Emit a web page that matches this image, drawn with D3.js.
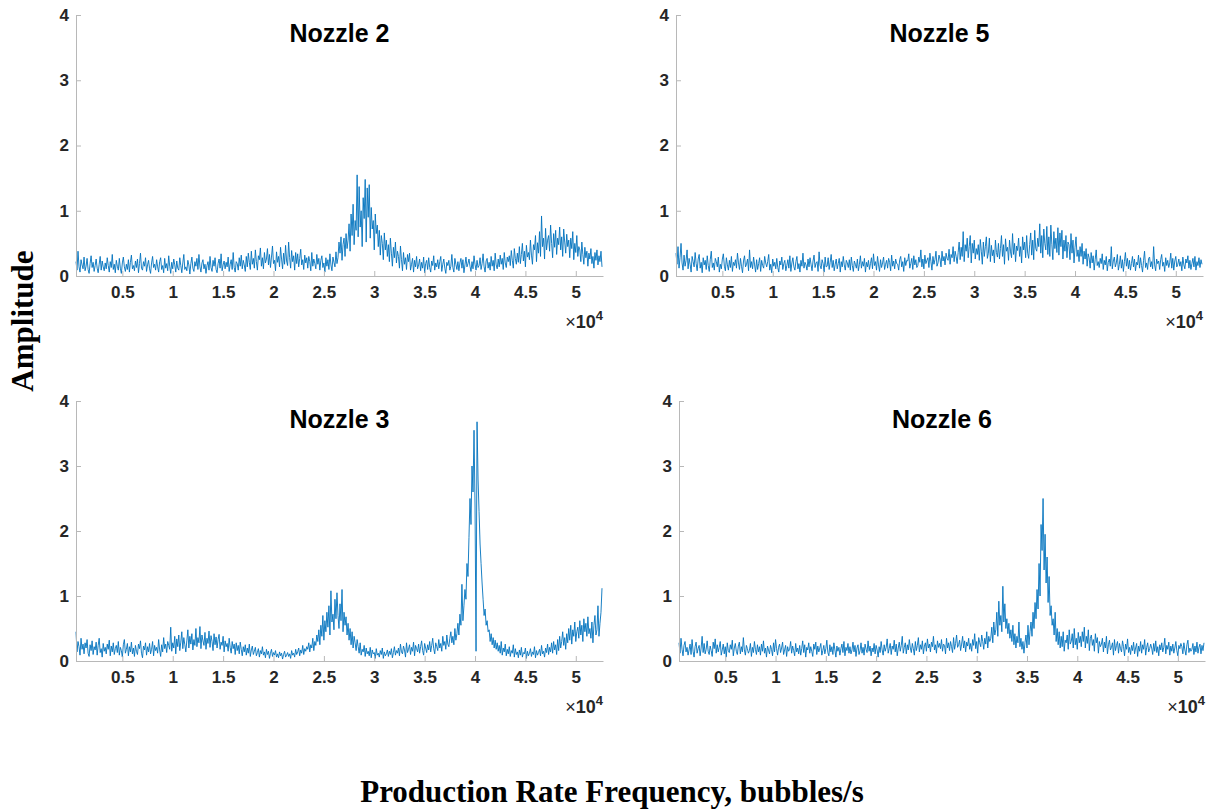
<!DOCTYPE html>
<html>
<head>
<meta charset="utf-8">
<script src="https://cdn.jsdelivr.net/npm/d3@7"></script>
<style>
  html, body { margin: 0; padding: 0; background: #fff; }
  svg { display: block; }
</style>
</head>
<body>
<svg id="chart" width="1213" height="809"></svg>
<script>
// Spectra sampled every 100 bubbles/s starting at 400; amplitudes stored in hundredths.
const freqStart = 400;
const freqStep = 100;

const nozzle2 = [
  22,9,38,14,6,25,17,11,29,8,
  15,27,10,4,19,31,13,21,7,16,
  26,12,5,18,30,9,23,14,8,20,
  11,28,16,6,22,13,33,10,18,5,
  24,15,9,27,12,4,20,29,14,7,
  18,10,25,6,21,32,11,16,8,23,
  13,26,5,19,35,12,9,22,15,28,
  7,17,24,11,4,20,30,13,18,9,
  25,14,6,22,28,10,16,5,27,12,
  19,8,31,15,4,21,11,26,17,6,
  23,12,9,28,16,5,20,33,10,14,
  8,24,17,3,19,29,12,7,22,15,
  27,10,33,14,6,20,25,11,18,4,
  16,22,9,30,13,7,24,15,28,10,
  5,19,26,12,34,8,17,23,11,21,
  14,29,7,18,25,10,36,13,6,22,
  19,9,28,15,32,11,24,17,7,30,
  14,35,21,10,38,18,27,12,40,22,
  9,31,25,43,15,28,11,36,20,26,
  42,17,33,13,29,46,19,24,8,37,
  21,30,14,44,26,11,35,18,47,23,
  16,52,28,12,39,22,31,9,36,19,
  34,14,27,41,17,25,10,32,20,28,
  12,30,22,8,36,15,26,19,11,33,
  18,27,9,24,31,13,20,6,28,15,
  25,10,34,17,8,29,21,14,37,19,
  28,52,35,60,24,48,58,30,65,42,
  55,80,38,95,62,110,48,85,70,155,
  60,137,75,100,45,120,88,148,52,135,
  90,140,58,105,72,85,40,95,65,78,
  45,70,32,62,50,25,66,40,55,30,
  48,22,58,35,15,44,28,52,20,38,
  30,12,46,25,8,36,18,28,10,33,
  22,35,9,18,27,6,24,14,30,11,
  17,26,8,21,12,29,5,19,24,10,
  28,13,6,23,16,31,9,20,14,25,
  11,22,30,7,18,26,12,4,21,16,
  24,9,15,33,13,6,27,18,10,22,
  8,20,27,12,25,5,17,29,14,19,
  26,15,7,22,11,31,18,9,24,13,
  16,28,10,19,34,14,6,23,27,12,
  21,9,30,15,24,8,35,17,11,26,
  14,32,18,27,10,36,20,13,29,22,
  31,16,39,24,12,42,27,18,35,21,
  45,19,33,50,23,38,14,47,29,36,
  25,55,32,18,48,40,62,22,51,35,
  68,30,92,45,58,26,73,40,55,62,
  38,78,50,28,65,44,70,33,58,48,
  75,40,60,30,72,52,35,64,45,55,
  28,58,42,68,25,50,36,62,30,45,
  40,22,52,33,18,44,28,38,15,35,
  26,42,19,30,12,36,24,40,17,31,
  22,38,14
];

const nozzle5 = [
  35,18,45,12,28,50,20,9,32,15,
  24,40,11,27,18,6,30,22,14,36,
  19,8,26,33,12,21,5,28,17,24,
  10,31,16,7,25,38,13,20,9,27,
  22,14,29,6,18,11,26,34,15,8,
  28,17,9,24,13,30,7,21,16,25,
  12,35,20,10,27,15,5,23,31,14,
  18,26,8,40,13,22,11,29,17,6,
  25,10,19,28,7,24,16,12,30,20,
  14,22,33,9,18,5,26,15,21,11,
  27,13,6,23,17,29,10,19,24,8,
  16,25,12,31,7,20,28,14,9,22,
  30,11,19,6,24,15,35,12,21,17,
  9,26,14,28,18,8,23,32,13,20,
  22,7,37,16,11,25,19,6,29,14,
  15,28,10,21,33,13,24,8,18,26,
  11,19,27,6,22,14,30,17,9,24,
  20,13,25,9,29,16,7,23,18,12,
  26,8,18,31,12,22,15,27,6,21,
  14,24,10,19,28,11,34,16,22,9,
  30,17,7,25,13,20,29,10,18,24,
  12,27,21,8,32,15,23,11,26,19,
  18,9,25,30,14,22,7,28,16,24,
  23,34,12,19,27,10,31,17,25,13,
  16,29,21,40,14,26,11,32,19,24,
  28,13,35,22,9,30,18,25,38,15,
  20,32,26,14,38,23,30,17,35,27,
  24,41,18,33,28,45,22,38,30,19,
  36,52,25,44,30,68,22,48,38,58,
  28,45,62,20,50,35,55,26,42,33,
  48,24,56,38,18,52,30,45,60,27,
  35,58,22,47,31,40,20,55,36,29,
  50,26,42,62,30,48,18,57,38,44,
  24,55,37,28,65,33,50,22,46,39,
  58,30,45,20,60,40,52,28,62,35,
  27,48,66,32,55,25,70,42,38,58,
  45,80,35,62,28,72,50,40,76,33,
  60,30,78,48,25,68,42,58,36,74,
  32,66,45,70,26,55,38,62,28,52,
  48,25,65,35,55,20,44,60,30,40,
  22,45,30,50,18,38,26,42,15,34,
  28,12,36,20,31,9,25,40,16,22,
  13,27,19,34,10,24,17,30,8,21,
  26,15,45,11,23,29,14,20,33,9,
  18,31,12,25,7,22,36,15,27,11,
  24,9,19,30,14,26,8,21,17,32,
  12,28,16,6,24,38,13,20,10,27,
  29,14,22,11,45,17,8,26,19,23,
  10,25,33,15,21,7,28,16,24,13,
  20,35,12,27,9,23,30,14,18,26,
  15,22,8,29,17,11,26,20,31,12,
  24,10,19,27,14,30,9,22,16,28,
  13,25,18
];

const nozzle3 = [
  45,14,30,22,9,35,18,26,11,28,
  20,33,12,7,25,16,31,10,22,17,
  29,9,24,35,13,19,6,27,15,21,
  11,26,18,32,8,23,14,28,10,19,
  24,13,30,9,21,16,6,25,33,12,
  18,27,8,22,14,29,11,20,7,24,
  15,10,26,19,31,12,5,23,17,28,
  9,22,14,27,11,18,30,8,24,16,
  21,12,33,17,7,25,14,36,19,26,
  13,30,24,18,52,15,28,20,38,11,
  34,22,40,16,29,45,19,36,25,14,
  31,48,20,38,26,42,17,33,24,50,
  22,36,28,53,19,40,31,24,44,18,
  35,27,46,21,39,30,16,42,25,37,
  20,33,41,18,29,24,38,14,31,22,
  27,15,35,21,12,30,19,26,10,28,
  16,24,11,29,18,8,22,14,25,9,
  20,12,26,7,17,23,10,15,21,8,
  13,19,6,16,11,22,9,14,5,18,
  10,15,4,12,18,7,13,9,16,6,
  11,5,14,8,12,3,10,15,6,9,
  13,7,11,4,16,9,12,6,18,10,
  14,20,8,17,12,24,10,19,15,22,
  18,28,14,25,20,35,16,30,24,40,
  30,48,25,55,38,70,32,62,45,75,
  52,85,40,108,60,72,48,95,65,105,
  70,50,88,62,110,45,75,55,68,40,
  58,32,50,25,45,20,38,28,16,33,
  22,12,28,9,18,14,24,7,20,11,
  15,8,21,5,17,11,13,4,19,9,
  12,6,16,10,20,4,14,8,11,17,
  7,15,10,19,5,13,22,9,16,12,
  20,8,26,14,11,23,17,6,28,13,
  18,25,10,21,15,29,8,24,19,14,
  26,12,22,31,16,9,27,20,13,25,
  17,30,14,24,35,19,11,28,22,16,
  33,20,27,15,38,24,30,18,40,26,
  22,35,45,28,38,25,50,32,42,58,
  40,72,55,118,62,85,110,95,150,130,
  190,250,210,300,260,355,240,15,368,280,
  230,180,150,120,95,70,80,55,62,45,
  48,30,42,25,36,20,32,18,28,15,
  24,12,30,9,20,14,26,8,18,11,
  22,7,16,12,25,6,19,10,14,5,
  17,9,21,6,13,11,20,4,15,8,
  12,19,7,14,10,22,5,16,9,13,
  18,8,24,11,15,6,20,13,26,10,
  21,14,28,12,30,17,25,10,33,16,
  38,20,30,45,24,36,18,42,28,50,
  32,55,26,48,38,60,30,45,52,35,
  62,40,55,30,65,45,58,38,68,42,
  50,35,60,28,55,70,40,48,85,38,
  58,75,112
];

const nozzle6 = [
  28,12,35,18,8,24,30,14,21,9,
  17,26,10,33,15,6,22,29,12,19,
  24,8,20,38,13,27,11,18,31,15,
  10,23,16,7,29,19,34,12,25,14,
  21,30,9,17,26,11,22,6,28,16,
  13,25,18,32,8,20,27,15,10,23,
  29,11,22,14,36,17,9,24,19,12,
  16,27,7,21,13,30,18,10,25,14,
  22,9,26,15,31,12,20,6,23,17,
  11,24,18,8,28,14,33,19,9,21,
  26,13,20,29,10,17,24,7,22,15,
  18,30,12,23,16,8,27,14,20,11,
  24,9,19,31,13,25,6,21,17,28,
  12,22,15,7,26,18,29,10,23,14,
  20,27,9,16,24,11,19,32,13,8,
  25,14,22,10,28,17,6,23,15,21,
  9,19,26,13,30,8,21,16,27,12,
  22,11,17,29,14,24,7,20,25,10,
  16,28,12,21,9,26,18,13,31,15,
  23,8,20,14,27,11,24,17,6,22,
  13,30,17,9,25,15,21,34,12,19,
  27,10,23,18,32,14,26,8,20,29,
  15,24,38,12,21,28,11,25,17,33,
  20,13,27,19,9,30,16,24,36,14,
  25,18,31,11,23,28,15,34,20,26,
  14,29,22,38,17,25,12,31,21,27,
  19,33,15,26,24,11,35,20,28,16,
  30,22,13,36,18,27,40,21,25,32,
  16,26,38,20,31,14,29,23,35,18,
  27,15,33,24,42,19,30,12,36,28,
  22,40,30,18,35,26,45,20,38,30,
  35,52,28,60,40,48,75,38,92,55,
  70,45,115,60,88,50,65,42,58,35,
  48,30,55,25,42,20,38,28,60,22,
  35,18,30,12,28,40,20,55,25,45,
  60,38,75,50,90,65,110,80,150,100,
  210,170,250,140,195,120,160,90,130,70,
  85,55,65,40,75,30,50,25,45,20,
  38,22,45,15,32,28,40,18,48,26,
  30,42,20,50,25,35,18,44,28,38,
  22,45,30,52,20,38,27,48,16,35,
  40,24,33,15,42,28,36,12,30,22,
  26,35,14,29,20,38,11,25,32,17,
  21,28,9,33,16,24,30,12,27,19,
  14,31,22,8,26,18,34,13,21,10,
  24,16,29,11,20,27,7,23,15,30,
  12,25,18,33,9,21,28,14,19,26,
  20,10,27,15,31,13,22,8,25,17,
  28,14,21,35,11,24,18,29,9,23,
  15,26,12,20,30,16,8,24,19,27,
  22,11,28,17,9,25,32,13,20,15,
  18,27,10,23,14,29,12,21,26,11,
  24,16,28
];

const xTickValues = [5000, 10000, 15000, 20000, 25000, 30000, 35000, 40000, 45000, 50000];
const yTickValues = [0, 1, 2, 3, 4];
const panelTitles = ["Nozzle 2", "Nozzle 5", "Nozzle 3", "Nozzle 6"];
const panelSeries = [nozzle2, nozzle5, nozzle3, nozzle6];
const xLabelText = "Production Rate Frequency, bubbles/s";
const yLabelText = "Amplitude";

// Axes boxes for the 2x2 grid
const boxes = [
  { left: 76,  top: 15,  right: 603,  bottom: 276 },
  { left: 676, top: 15,  right: 1203, bottom: 276 },
  { left: 76,  top: 401, right: 603,  bottom: 661 },
  { left: 679, top: 401, right: 1205, bottom: 661 }
];

const svg = d3.select("#chart");
const sansFont = "'Liberation Sans', Arial, Helvetica, sans-serif";
const serifFont = "'Liberation Serif', 'Times New Roman', serif";
const axisGray = "#b8b8b8";
const labelDark = "#262626";
const lineBlue = "#0072BD";

panelSeries.forEach((series, k) => {
  const b = boxes[k];
  const x = d3.scaleLinear().domain([400, 52700]).range([b.left, b.right]);
  const y = d3.scaleLinear().domain([0, 4]).range([b.bottom, b.top]);
  const g = svg.append("g");

  const pts = series.map((v, i) => [freqStart + i * freqStep, v / 100]);

  // spectrum trace
  g.append("path")
    .datum(pts)
    .attr("fill", "none")
    .attr("stroke", lineBlue)
    .attr("stroke-width", 0.9)
    .attr("stroke-opacity", 1)
    .attr("stroke-linejoin", "round")
    .attr("d", d3.line().x(d => x(d[0])).y(d => y(d[1])));

  // y axis, ticks pointing inward
  const yAxis = g.append("g")
    .attr("transform", `translate(${b.left},0)`)
    .call(d3.axisLeft(y).tickValues(yTickValues).tickFormat(d3.format("d"))
      .tickSizeInner(-5).tickSizeOuter(0).tickPadding(7));

  // x axis, ticks pointing inward
  const xAxis = g.append("g")
    .attr("transform", `translate(0,${b.bottom})`)
    .call(d3.axisBottom(x).tickValues(xTickValues).tickFormat(v => String(v / 10000))
      .tickSizeInner(-5).tickSizeOuter(0).tickPadding(10));

  [yAxis, xAxis].forEach(ax => {
    ax.select(".domain").attr("stroke", axisGray).attr("stroke-width", 1);
    ax.selectAll(".tick line").attr("stroke", axisGray);
    ax.selectAll(".tick text")
      .attr("fill", labelDark)
      .style("font-family", sansFont)
      .style("font-size", "17px")
      .style("font-weight", "bold");
  });

  // exponent marker under the x axis
  const expo = g.append("text")
    .attr("x", b.right)
    .attr("y", b.bottom + 52)
    .attr("text-anchor", "end")
    .attr("fill", labelDark)
    .style("font-family", sansFont)
    .style("font-size", "18px");
  expo.append("tspan").text("\u00D7");
  expo.append("tspan").style("font-weight", "bold").text("10");
  expo.append("tspan").attr("dy", -8).style("font-size", "13px").style("font-weight", "bold").text("4");

  // panel title
  g.append("text")
    .attr("x", (b.left + b.right) / 2)
    .attr("y", b.top + 27)
    .attr("text-anchor", "middle")
    .attr("fill", "#000")
    .style("font-family", sansFont)
    .style("font-size", "25px")
    .style("font-weight", "bold")
    .text(panelTitles[k]);
});

// shared axis labels
svg.append("text")
  .attr("transform", "translate(33,321) rotate(-90)")
  .attr("text-anchor", "middle")
  .attr("fill", "#000")
  .style("font-family", serifFont)
  .style("font-size", "31px")
  .style("font-weight", "bold")
  .text(yLabelText);

svg.append("text")
  .attr("x", 612)
  .attr("y", 802)
  .attr("text-anchor", "middle")
  .attr("fill", "#000")
  .style("font-family", serifFont)
  .style("font-size", "31px")
  .style("font-weight", "bold")
  .text(xLabelText);
</script>
</body>
</html>
